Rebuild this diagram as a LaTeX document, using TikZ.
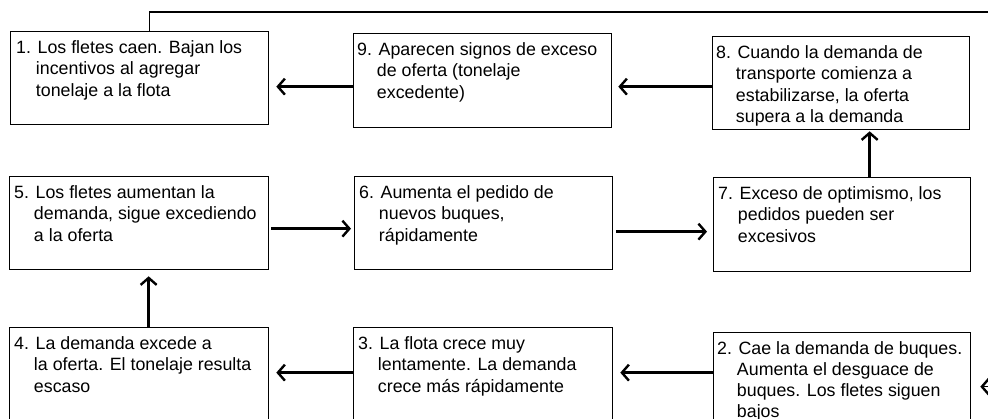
\documentclass[tikz,border=0pt]{standalone}
\usepackage{fontspec}
\setmainfont{Liberation Sans}
\usetikzlibrary{arrows.meta}
\newcommand{\hind}{\phantom{1.\ }}
\tikzset{
  stepbox/.style={draw, line width=1.3pt, anchor=north west, inner sep=0pt},
  boxtext/.style={anchor=north west, align=left, inner sep=0pt,
    font=\fontsize{17.8}{21.3}\selectfont},
  arr/.style={line width=2.4pt, -{Straight Barb[length=7pt,width=16pt,line width=2.4pt]}},
  fb/.style={line width=1.4pt, -{Straight Barb[length=7pt,width=16pt,line width=2.4pt]}}
}
\begin{document}
\begin{tikzpicture}[x=1pt,y=-1pt]
\useasboundingbox (0,0) rectangle (988,419);
% boxes
\node[stepbox, minimum width=258pt, minimum height=93pt] (b1) at (10,31) {};
\node[stepbox, minimum width=258pt, minimum height=94pt] (b9) at (353,33) {};
\node[stepbox, minimum width=257pt, minimum height=93pt] (b8) at (712,36) {};
\node[stepbox, minimum width=259pt, minimum height=93pt] (b5) at (9,176) {};
\node[stepbox, minimum width=258pt, minimum height=93pt] (b6) at (354,176) {};
\node[stepbox, minimum width=257pt, minimum height=94pt] (b7) at (713,177) {};
\node[stepbox, minimum width=259pt, minimum height=113pt] (b4) at (9,327) {};
\node[stepbox, minimum width=259pt, minimum height=113pt] (b3) at (353,327) {};
\node[stepbox, minimum width=257pt, minimum height=108pt] (b2) at (713,332) {};
% texts
\node[boxtext] (t1) at ([xshift=6pt,yshift=-9.5pt]b1.north west)
  {1. Los fletes caen. Bajan los\\\hind incentivos al agregar\\\hind tonelaje a la flota};
\node[boxtext] (t9) at ([xshift=4pt,yshift=-9.5pt]b9.north west)
  {9. Aparecen signos de exceso\\\hind de oferta (tonelaje\\\hind excedente)};
\node[boxtext] (t8) at ([xshift=4pt,yshift=-9.5pt]b8.north west)
  {8. Cuando la demanda de\\\hind transporte comienza a\\\hind estabilizarse, la oferta\\\hind supera a la demanda};
\node[boxtext] (t5) at ([xshift=5pt,yshift=-9.5pt]b5.north west)
  {5. Los fletes aumentan la\\\hind demanda, sigue excediendo\\\hind a la oferta};
\node[boxtext] (t6) at ([xshift=5pt,yshift=-9.5pt]b6.north west)
  {6. Aumenta el pedido de\\\hind nuevos buques,\\\hind rápidamente};
\node[boxtext] (t7) at ([xshift=5pt,yshift=-9.5pt]b7.north west)
  {7. Exceso de optimismo, los\\\hind pedidos pueden ser\\\hind excesivos};
\node[boxtext] (t4) at ([xshift=5pt,yshift=-9.5pt]b4.north west)
  {4. La demanda excede a\\\hind la oferta. El tonelaje resulta\\\hind escaso};
\node[boxtext] (t3) at ([xshift=5pt,yshift=-9.5pt]b3.north west)
  {3. La flota crece muy\\\hind lentamente. La demanda\\\hind crece más rápidamente};
\node[boxtext] (t2) at ([xshift=4pt,yshift=-9pt]b2.north west)
  {2. Cae la demanda de buques.\\\hind Aumenta el desguace de\\\hind buques. Los fletes siguen\\\hind bajos};
% connectors
\draw[arr, shorten >=7pt] ([yshift=-6pt]b9.west) -- ([yshift=-6pt]b9.west -| b1.east);
\draw[arr, shorten >=6pt] ([yshift=-3.5pt]b8.west) -- ([yshift=-3.5pt]b8.west -| b9.east);
\draw[arr, shorten <=2pt, shorten >=3pt] ([yshift=-5.5pt]b5.east) -- ([yshift=-5.5pt]b5.east -| b6.west);
\draw[arr, shorten <=3pt, shorten >=6pt] ([yshift=-8.5pt]b6.east) -- ([yshift=-8.5pt]b6.east -| b7.west);
\draw[arr, shorten >=6pt] ([xshift=9.5pt]b4.north) -- ([xshift=9.5pt]b4.north |- b5.south);
\draw[arr, shorten >=1pt] ([xshift=27.5pt]b7.north) -- ([xshift=27.5pt]b7.north |- b8.south);
\draw[arr, shorten >=7pt] ([yshift=14pt]b2.west) -- ([yshift=14pt]b2.west -| b3.east);
\draw[arr, shorten >=7pt] ([yshift=14pt]b2.west -| b3.west) -- ([yshift=14pt]b2.west -| b4.east);
\coordinate (fbtop) at (1000,12);
\draw[fb, shorten >=9pt] ([xshift=10pt]b1.north) |- (fbtop) |- (b2.east);
\end{tikzpicture}
\end{document}
